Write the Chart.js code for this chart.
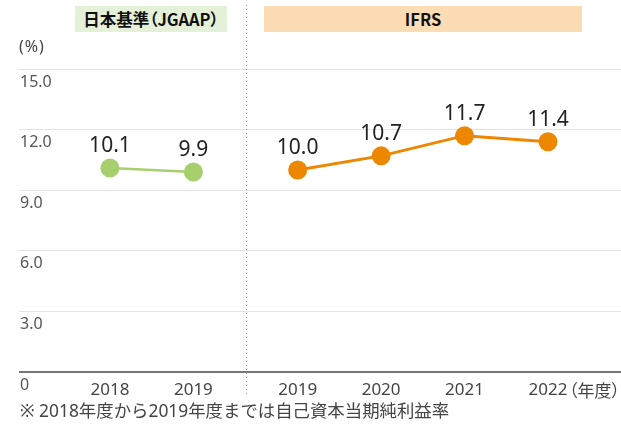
<!DOCTYPE html>
<html>
<head>
<meta charset="utf-8">
<script src="https://cdn.jsdelivr.net/npm/chart.js@4/dist/chart.umd.min.js"></script>
<style>
  body { margin: 0; background: #fff; font-family: "Noto Sans", "Noto Sans CJK JP", sans-serif; }
  #wrap { position: relative; width: 621px; height: 430px; }
  .note { position: absolute; color: #444; white-space: nowrap; line-height: 20px; }
  .head { position: absolute; top: 6px; height: 26px; line-height: 26px; font-weight: bold; font-size: 16.5px; color: #111; text-align: center; font-family: "Noto Sans CJK JP", sans-serif; font-feature-settings: "palt"; }
</style>
</head>
<body>
<div id="wrap">
  <canvas id="RoeChart" width="621" height="430"></canvas>
  <div class="head" style="left:75px;width:152px;background:#e5f0d9;">日本基準（JGAAP）</div>
  <div class="head" style="left:264px;width:318px;background:#fcdcb4;">IFRS</div>
  <div class="note" style="left:19px;top:36px;font-size:16px;letter-spacing:1px;">(%)</div>
  <div class="note" style="left:569px;top:380px;font-size:17px;font-family:'Noto Sans CJK JP',sans-serif;font-feature-settings:'palt';">（年度）</div>
  <div class="note" style="left:20px;top:400px;font-size:17.4px;">※ 2018年度から2019年度までは自己資本当期純利益率</div>
</div>
<script>
// JGAAP / IFRS ROE (%)
const jgaapYears = ['2018', '2019'];
const jgaapValues = [10.1, 9.9];
const ifrsYears = ['2019', '2020', '2021', '2022'];
const ifrsValues = [10.0, 10.7, 11.7, 11.4];
const yTicks = [0, 3, 6, 9, 12, 15];

const gap = 1.25; // extra spacing between the two standards
const jgaapX = jgaapYears.map((y, i) => i);
const ifrsX = ifrsYears.map((y, i) => jgaapYears.length - 1 + gap + i);
const allX = jgaapX.concat(ifrsX);
const allLabels = jgaapYears.concat(ifrsYears);

const green = '#a8cf6e';
const orange = '#ee8700';
const font = '"Noto Sans", "Noto Sans CJK JP", sans-serif';

const valueLabels = {
  id: 'valueLabels',
  afterDatasetsDraw(chart) {
    const ctx = chart.ctx;
    ctx.save();
    ctx.font = '21px ' + font;
    ctx.fillStyle = '#222';
    ctx.textAlign = 'center';
    ctx.textBaseline = 'middle';
    chart.data.datasets.forEach((ds, i) => {
      chart.getDatasetMeta(i).data.forEach((pt, j) => {
        ctx.fillText(ds.data[j].y.toFixed(1), pt.x, pt.y - 22);
      });
    });
    ctx.restore();
  }
};

const separator = {
  id: 'separator',
  beforeDatasetsDraw(chart) {
    const ctx = chart.ctx;
    const x = Math.round(chart.scales.x.getPixelForValue((jgaapX[jgaapX.length - 1] + ifrsX[0]) / 2)) + 0.5;
    ctx.save();
    ctx.strokeStyle = '#999';
    ctx.lineWidth = 1;
    ctx.setLineDash([1, 3]);
    ctx.beginPath();
    ctx.moveTo(x, 5);
    ctx.lineTo(x, 397);
    ctx.stroke();
    ctx.restore();
  }
};

new Chart(document.getElementById('RoeChart'), {
  type: 'line',
  data: {
    datasets: [
      {
        label: 'JGAAP',
        data: jgaapValues.map((v, i) => ({ x: jgaapX[i], y: v })),
        borderColor: green,
        backgroundColor: green,
        borderWidth: 2.5,
        pointRadius: 9.5,
        pointBorderWidth: 0,
      },
      {
        label: 'IFRS',
        data: ifrsValues.map((v, i) => ({ x: ifrsX[i], y: v })),
        borderColor: orange,
        backgroundColor: orange,
        borderWidth: 3,
        pointRadius: 9.5,
        pointBorderWidth: 0,
      },
    ],
  },
  options: {
    responsive: false,
    animation: false,
    layout: { autoPadding: false, padding: { left: 19, right: 0, top: 69, bottom: 0 } },
    plugins: { legend: { display: false }, tooltip: { enabled: false } },
    scales: {
      x: {
        type: 'linear',
        min: -1.09,
        max: 6.125,
        grid: { display: false, drawTicks: false },
        border: { display: false },
        afterBuildTicks: (scale) => { scale.ticks = allX.map(v => ({ value: v })); },
        afterFit: (scale) => {
          scale.height = 58;
          scale.paddingLeft = 0;
          scale.paddingRight = 0;
        },
        ticks: {
          padding: 8,
          color: '#444',
          font: { size: 17, family: font },
          maxRotation: 0,
          autoSkip: false,
          callback: (v) => allLabels[allX.indexOf(v)],
        },
      },
      y: {
        min: 0,
        max: 15,
        afterBuildTicks: (scale) => { scale.ticks = yTicks.map(v => ({ value: v })); },
        afterFit: (scale) => {
          scale.width = 0;
          scale.paddingTop = 0;
          scale.paddingBottom = 0;
        },
        border: { display: false },
        grid: {
          drawTicks: false,
          color: (c) => c.tick && c.tick.value === 0 ? '#777' : '#e3e3e3',
          lineWidth: (c) => c.tick && c.tick.value === 0 ? 2 : 1,
        },
        ticks: {
          mirror: true,
          padding: 1,
          labelOffset: 13,
          color: '#555',
          font: { size: 16, family: font },
          callback: (v) => v === 0 ? '0' : v.toFixed(1),
        },
      },
    },
  },
  plugins: [separator, valueLabels],
});
</script>
</body>
</html>
